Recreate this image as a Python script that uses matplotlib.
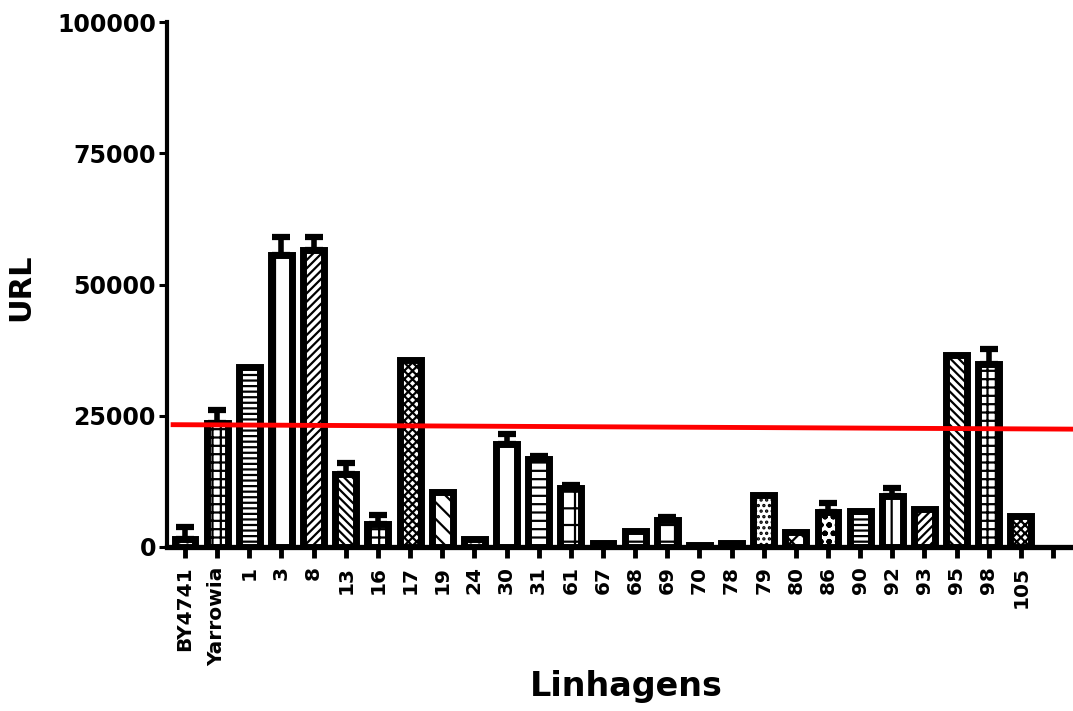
import matplotlib
matplotlib.use("Agg")
import matplotlib.pyplot as plt
import numpy as np

categories = ["BY4741", "Yarrowia", "1", "3", "8", "13", "16", "17", "19", "24",
              "30", "31", "61", "67", "68", "69", "70", "78", "79", "80",
              "86", "90", "92", "93", "95", "98", "105"]
values = [1600, 23700, 34200, 55700, 56500, 14000, 4300, 35600, 10500, 1500,
          19700, 16800, 11300, 700, 3100, 5200, 300, 800, 10000, 2800,
          6600, 6800, 9800, 7300, 36500, 34800, 6000]
errors = [2200, 2400, 0, 3300, 2500, 2000, 1800, 0, 0, 0,
          1800, 500, 500, 0, 0, 500, 0, 0, 0, 0,
          1700, 0, 1500, 0, 0, 3000, 0]
hatches = ["..", "++", "---", "|", "////", "\\\\\\\\", "++", "xxxx", "\\\\", "..",
           "", "--", "+", "", "-", "+", "", "", "...", "xx",
           "oo", "---", "|", "////", "\\\\\\\\", "++", "xxxx"]
threshold_start = 23300
threshold_end = 22450
yticks = [0, 25000, 50000, 75000, 100000]

plt.rcParams['font.family'] = ['DejaVu Sans']
plt.rcParams['font.weight'] = 'bold'
plt.rcParams['hatch.linewidth'] = 1.6
plt.rcParams['hatch.color'] = 'black'

fig = plt.figure(figsize=(10.73, 7.11), dpi=100)
ax = fig.add_axes([167/1073, 1 - 547/711, (1073 - 167)/1073, (547 - 22)/711])

x = np.arange(len(categories))
for i in range(len(categories)):
    ax.bar(x[i], values[i], width=0.65, color='white', edgecolor='black',
           linewidth=5, hatch=hatches[i], zorder=2)
    if errors[i] > 0:
        ax.errorbar(x[i], values[i], yerr=[[0], [errors[i]]], fmt='none',
                    ecolor='black', elinewidth=4, capsize=6.5, capthick=4.5, zorder=3)

xlim = (-0.56, 27.62)
ax.plot([-0.37, xlim[1]], [threshold_start, threshold_end], color='#ff0000',
        linewidth=3.5, zorder=4, clip_on=False)

ax.set_xlim(*xlim)
ax.set_ylim(0, 100000)
ax.set_yticks(yticks)
ax.set_yticklabels([str(t) for t in yticks], fontsize=17, fontweight='bold')
ax.set_xticks(list(x) + [len(categories)])
ax.set_xticklabels(categories + [""], rotation=90, fontsize=14.5, fontweight='bold')

for s in ['top', 'right']:
    ax.spines[s].set_visible(False)
ax.spines['left'].set_linewidth(3)
ax.spines['bottom'].set_linewidth(3.8)
ax.tick_params(axis='y', direction='out', length=6, width=2.2, pad=2)
ax.tick_params(axis='x', direction='out', length=8, width=3.5, pad=6)

ax.set_ylabel("URL", fontsize=22, fontweight='bold')
ax.yaxis.set_label_coords(-0.145, 0.495)
ax.set_xlabel("Linhagens", fontsize=24, fontweight='bold')
ax.xaxis.set_label_coords(0.507, -0.235)

fig.savefig("out.png", dpi=100)
